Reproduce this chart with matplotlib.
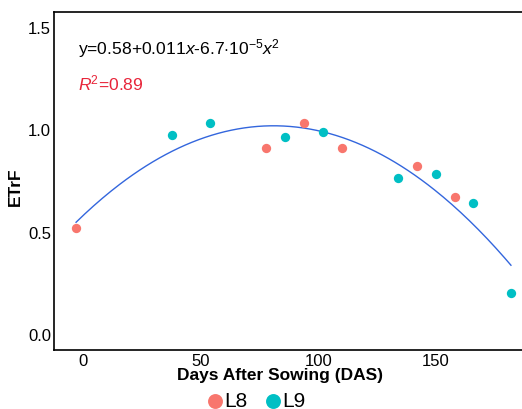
import numpy as np
import matplotlib.pyplot as plt

plt.rcParams['font.family'] = ['Liberation Sans', 'DejaVu Sans']
plt.rcParams['mathtext.fontset'] = 'custom'
plt.rcParams['mathtext.rm'] = 'Liberation Sans'
plt.rcParams['mathtext.it'] = 'Liberation Sans:italic'

# datos
das_l8 = [-3, 78, 94, 110, 142, 158]
etrf_l8 = [0.52, 0.91, 1.03, 0.91, 0.82, 0.67]
das_l9 = [38, 54, 86, 102, 134, 150, 166, 182]
etrf_l9 = [0.97, 1.03, 0.96, 0.985, 0.76, 0.78, 0.64, 0.20]

ecuacion = r'y=0.58+0.011$\it{x}$-6.7$\cdot$10$^{-5}$$\it{x}$$^{2}$'
r2_texto = r'$\it{R}$$^{2}$=0.89'

fig = plt.figure(figsize=(5.22, 4.10), dpi=100)
ax = fig.add_axes([0.1034, 0.1439, 0.92, 0.8244])

# ajuste cuadratico (como geom_smooth)
x_all = np.array(das_l8 + das_l9)
y_all = np.array(etrf_l8 + etrf_l9)
coef = np.polyfit(x_all, y_all, 2)
xs = np.linspace(x_all.min(), x_all.max(), 200)
ax.plot(xs, np.polyval(coef, xs), color='#3366DD', lw=1.0, zorder=1)

ax.scatter(das_l8, etrf_l8, s=45, color='#F8766D', label='L8', zorder=2,
           linewidths=0)
ax.scatter(das_l9, etrf_l9, s=45, color='#00BFC4', label='L9', zorder=2,
           linewidths=0)

# textos de la ecuacion
fig.text(78 / 522, 1 - 54 / 410, ecuacion, fontsize=12.6, color='black',
         va='baseline')
fig.text(78 / 522, 1 - 90 / 410, r2_texto, fontsize=12.6, color='#E8253A',
         va='baseline')

ax.set_xlim(-12.4, 191.9)
ax.set_ylim(-0.078, 1.573)
ax.set_xticks([0, 50, 100, 150])
ax.set_yticks([0.0, 0.5, 1.0, 1.5])
ax.set_yticklabels(['0.0', '0.5', '1.0', '1.5'])
ax.tick_params(length=0, labelsize=12, pad=2, colors='black')

for s in ax.spines.values():
    s.set_linewidth(1.2)

fig.text(280 / 522, 1 - 380 / 410, 'Days After Sowing (DAS)', fontsize=12.5,
         fontweight='bold', ha='center', va='baseline')
fig.text(15 / 522, 1 - 187 / 410, 'ETrF', fontsize=12.5, fontweight='bold',
         ha='center', va='center', rotation=90)

fig.legend(handles=ax.collections, labels=['L8', 'L9'], loc='center',
           bbox_to_anchor=(257 / 522, 1 - 402 / 410), ncol=2, frameon=False,
           fontsize=15, markerscale=1.6, handlelength=0.6,
           handletextpad=0.15, columnspacing=0.9, borderaxespad=0,
           borderpad=0)

fig.savefig('out.png', dpi=100)
